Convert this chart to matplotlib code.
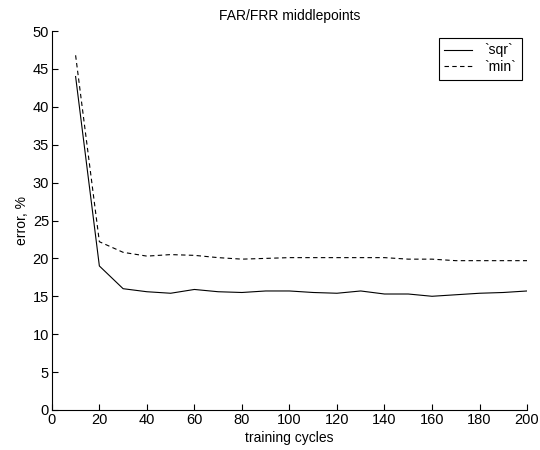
import matplotlib
matplotlib.use("Agg")
import matplotlib.pyplot as plt

# training error after each batch of cycles
cycles = [10, 20, 30, 40, 50, 60, 70, 80, 90, 100,
          110, 120, 130, 140, 150, 160, 170, 180, 190, 200]
err_sqr = [44.0, 19.0, 16.0, 15.6, 15.4, 15.9, 15.6, 15.5, 15.7, 15.7,
           15.5, 15.4, 15.7, 15.3, 15.3, 15.0, 15.2, 15.4, 15.5, 15.7]
err_min = [46.8, 22.2, 20.8, 20.3, 20.5, 20.4, 20.1, 19.9, 20.0, 20.1,
           20.1, 20.1, 20.1, 20.1, 19.9, 19.9, 19.7, 19.7, 19.7, 19.7]

plt.rcParams['font.family'] = ['Liberation Sans', 'DejaVu Sans']
plt.rcParams['font.size'] = 10

fig = plt.figure(figsize=(5.4, 4.5), dpi=100)
ax = fig.add_axes([0.096, 0.089, 0.880, 0.842])

ax.plot(cycles, err_sqr, '-', color='black', linewidth=0.8, label='`sqr`')
ax.plot(cycles, err_min, '--', color='black', linewidth=0.8,
        dashes=(4, 3), label='`min`')

ax.set_xlim(0, 200)
ax.set_ylim(0, 50)
ax.set_xticks(range(0, 201, 20))
ax.set_yticks(range(0, 51, 5))
ax.tick_params(direction='in', length=4, width=0.8, labelsize=10.5, pad=2)
ax.spines['top'].set_visible(False)
ax.spines['right'].set_visible(False)
for s in ('left', 'bottom'):
    ax.spines[s].set_linewidth(0.8)

ax.set_title('FAR/FRR middlepoints', fontsize=10, pad=8)
ax.set_xlabel('training cycles', fontsize=10, labelpad=3)
ax.set_ylabel('error, %', fontsize=10, labelpad=3)

leg = ax.legend(loc='upper right', fancybox=False, framealpha=1,
                edgecolor='black', fontsize=10, handlelength=2.0,
                handletextpad=0.9, borderpad=0.4, labelspacing=0.2,
                borderaxespad=0, bbox_to_anchor=(0.989, 0.982))
leg.get_frame().set_linewidth(0.8)

fig.savefig('out.png', dpi=100)
